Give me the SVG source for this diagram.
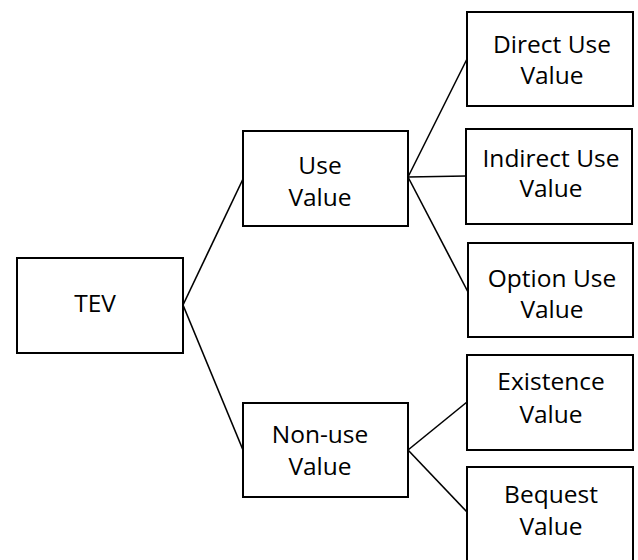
<svg xmlns="http://www.w3.org/2000/svg" width="638" height="560" viewBox="0 0 638 560">
  <style>
    .box { fill: #ffffff; stroke: #000000; stroke-width: 2; }
    .link { fill: none; stroke: #000000; stroke-width: 1.6; }
    .label { font-family: "Open Sans", "Liberation Sans", sans-serif; font-size: 24.5px; fill: #000000; text-anchor: middle; }
  </style>
  <rect width="638" height="560" fill="#ffffff"/>

  <!-- connectors -->
  <g id="connectors">
    <line class="link" x1="183" y1="305" x2="243" y2="179"/>
    <line class="link" x1="183" y1="305" x2="243" y2="450"/>
    <line class="link" x1="408" y1="177" x2="467" y2="59"/>
    <line class="link" x1="408" y1="177" x2="466" y2="176"/>
    <line class="link" x1="408" y1="177" x2="468" y2="292"/>
    <line class="link" x1="408" y1="450" x2="467" y2="402"/>
    <line class="link" x1="408" y1="450" x2="467" y2="512"/>
  </g>

  <!-- root -->
  <g id="tev">
    <rect class="box" x="17" y="258" width="166" height="95"/>
    <text class="label" x="95" y="312">TEV</text>
  </g>

  <!-- second level -->
  <g id="use-value">
    <rect class="box" x="243" y="131" width="165" height="95"/>
    <text class="label" x="320" y="174">Use</text>
    <text class="label" x="320" y="206">Value</text>
  </g>
  <g id="non-use-value">
    <rect class="box" x="243" y="403" width="165" height="94"/>
    <text class="label" x="320" y="443">Non-use</text>
    <text class="label" x="320" y="475">Value</text>
  </g>

  <!-- use value branches -->
  <g id="direct-use-value">
    <rect class="box" x="467" y="12" width="166" height="94"/>
    <text class="label" x="552" y="53">Direct Use</text>
    <text class="label" x="552" y="84">Value</text>
  </g>
  <g id="indirect-use-value">
    <rect class="box" x="466" y="129" width="166" height="95"/>
    <text class="label" x="551" y="167">Indirect Use</text>
    <text class="label" x="551" y="197">Value</text>
  </g>
  <g id="option-use-value">
    <rect class="box" x="468" y="243" width="165" height="94"/>
    <text class="label" x="552" y="287">Option Use</text>
    <text class="label" x="552" y="318">Value</text>
  </g>

  <!-- non-use value branches -->
  <g id="existence-value">
    <rect class="box" x="467" y="355" width="166" height="95"/>
    <text class="label" x="551" y="390">Existence</text>
    <text class="label" x="551" y="423">Value</text>
  </g>
  <g id="bequest-value">
    <rect class="box" x="467" y="467" width="166" height="95"/>
    <text class="label" x="551" y="503">Bequest</text>
    <text class="label" x="551" y="535">Value</text>
  </g>
</svg>
